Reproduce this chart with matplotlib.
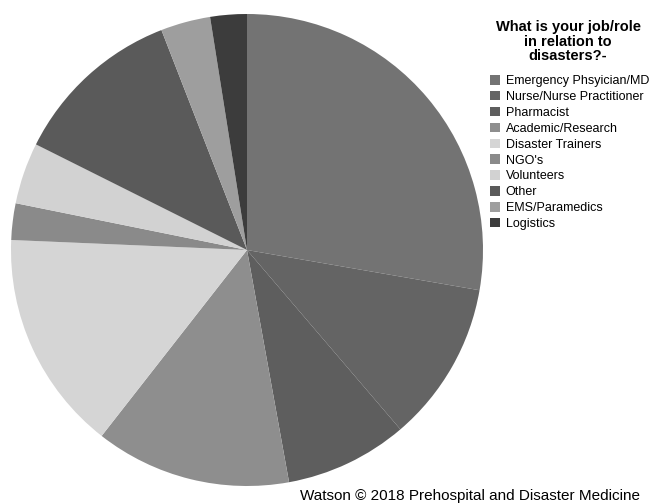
import matplotlib
matplotlib.use("Agg")
from matplotlib import pyplot as plt

plt.rcParams['font.family'] = ['Liberation Sans', 'DejaVu Sans']

# share of respondents by role (percent)
roles = ["Emergency Phsyician/MD", "Nurse/Nurse Practitioner", "Pharmacist",
         "Academic/Research", "Disaster Trainers", "NGO's", "Volunteers",
         "Other", "EMS/Paramedics", "Logistics"]
shares = [27.7, 11.0, 8.4, 13.4, 15.1, 2.5, 4.2, 11.7, 3.4, 2.5]
greys = ["#737373", "#646464", "#5e5e5e", "#8e8e8e", "#d5d5d5",
         "#8a8a8a", "#d2d2d2", "#5a5a5a", "#9e9e9e", "#3c3c3c"]

W, H = 650, 504
fig = plt.figure(figsize=(W / 100, H / 100), dpi=100)

# pie centre (247, 250) px, radius 236 px
cx, cy, r = 247, 250, 236
ax = fig.add_axes([(cx - r) / W, (H - cy - r) / H, 2 * r / W, 2 * r / H])
wedges, _ = ax.pie(shares, colors=greys, startangle=90, counterclock=False,
                   wedgeprops=dict(linewidth=0))
ax.set_aspect("equal")
ax.set_xlim(-1, 1)
ax.set_ylim(-1, 1)
ax.axis("off")

fig.text(568 / W, 1 - 20 / H, "What is your job/role\nin relation to\ndisasters?-",
         ha="center", va="top", fontsize=10.5, fontweight="bold", linespacing=1.05)

leg = fig.legend(wedges, roles, loc="upper left",
                 bbox_to_anchor=(490 / W, 1 - 75 / H), frameon=False,
                 fontsize=9.0, handlelength=0.8, handleheight=0.8,
                 handletextpad=0.45, labelspacing=0.3, borderpad=0,
                 borderaxespad=0)

fig.text(300 / W, 1 - 500 / H, "Watson \u00a9 2018 Prehospital and Disaster Medicine",
         ha="left", va="baseline", fontsize=11)

fig.savefig("out.png", dpi=100)
